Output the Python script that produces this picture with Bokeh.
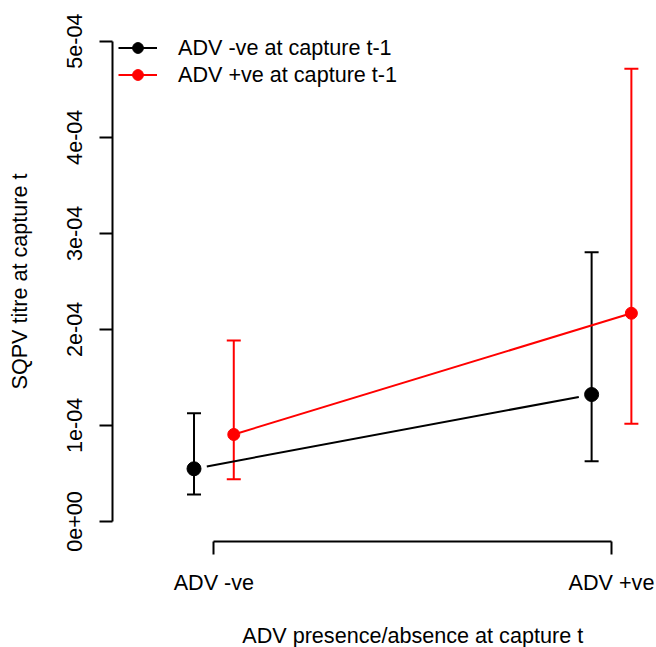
import numpy as np
from bokeh.plotting import figure
from bokeh.models import (ColumnDataSource, Whisker, TeeHead, FixedTicker,
                          CustomJSTickFormatter, Legend, LegendItem, Label, Range1d)
from bokeh.embed import file_html
from bokeh.resources import INLINE

# ---- data ----
categories = ["ADV -ve", "ADV +ve"]
cat_pos = [1, 2]
neg_mean = [5.49e-05, 1.322e-04]
neg_lower = [2.81e-05, 6.28e-05]
neg_upper = [1.127e-04, 2.803e-04]
pos_mean = [9.06e-05, 2.168e-04]
pos_lower = [4.40e-05, 1.017e-04]
pos_upper = [1.884e-04, 4.713e-04]
y_ticks = [0, 1e-4, 2e-4, 3e-4, 4e-4, 5e-4]
series_labels = ["ADV -ve at capture t-1", "ADV +ve at capture t-1"]
x_title = "ADV presence/absence at capture t"
y_title = "SQPV titre at capture t"

# ---- layout / style ----
W, H = 656, 647
BL, BR, BT, BB = 112, 12, 21, 106
X0, X1 = 0.745, 2.083
Y0, Y1 = -0.208e-4, 5.205e-4
DODGE = 0.05
FONT = "Liberation Sans"
FS = "21.6px"
BLACK, RED = "#000000", "#FF0000"

p = figure(width=W, height=H, output_backend="svg", toolbar_location=None,
           x_range=Range1d(X0, X1), y_range=Range1d(Y0, Y1),
           min_border_left=BL, min_border_right=BR, min_border_top=BT,
           min_border_bottom=BB)
p.xgrid.visible = False
p.ygrid.visible = False
p.outline_line_color = None
p.background_fill_color = "white"
p.border_fill_color = "white"

kx = (W - BL - BR) / (X1 - X0)
ky = (H - BT - BB) / (Y1 - Y0)


def gapped_segments(xs, ys, gap_px):
    xs = np.asarray(xs, float)
    ys = np.asarray(ys, float)
    x0s, y0s, x1s, y1s = [], [], [], []
    for i in range(len(xs) - 1):
        dx = (xs[i + 1] - xs[i]) * kx
        dy = (ys[i + 1] - ys[i]) * ky
        L = np.hypot(dx, dy)
        ux, uy = dx / L, dy / L
        x0s.append(xs[i] + ux * gap_px / kx)
        y0s.append(ys[i] + uy * gap_px / ky)
        x1s.append(xs[i + 1] - ux * gap_px / kx)
        y1s.append(ys[i + 1] - uy * gap_px / ky)
    return dict(x0=x0s, y0=y0s, x1=x1s, y1=y1s)


neg_x = [c - DODGE for c in cat_pos]
pos_x = [c + DODGE for c in cat_pos]

neg_src = ColumnDataSource(dict(x=neg_x, y=neg_mean, lower=neg_lower, upper=neg_upper))
pos_src = ColumnDataSource(dict(x=pos_x, y=pos_mean, lower=pos_lower, upper=pos_upper))

# connecting lines
neg_line = p.segment(source=ColumnDataSource(gapped_segments(neg_x, neg_mean, 13)),
                     x0="x0", y0="y0", x1="x1", y1="y1",
                     line_color=BLACK, line_width=2)
pos_line = p.line(x="x", y="y", source=pos_src, line_color=RED, line_width=2)

# error bars
for src, col in ((neg_src, BLACK), (pos_src, RED)):
    w = Whisker(source=src, base="x", lower="lower", upper="upper",
                line_color=col, line_width=2,
                upper_head=TeeHead(size=14, line_color=col, line_width=2),
                lower_head=TeeHead(size=14, line_color=col, line_width=2))
    p.add_layout(w)

neg_pts = p.scatter(x="x", y="y", source=neg_src, size=14, marker="circle",
                    fill_color=BLACK, line_color=BLACK)
pos_pts = p.scatter(x="x", y="y", source=pos_src, size=12, marker="circle",
                    fill_color=RED, line_color=RED)

# axes
xa = p.xaxis[0]
xa.ticker = FixedTicker(ticks=cat_pos)
xa.major_label_overrides = {c: lab for c, lab in zip(cat_pos, categories)}
xa.bounds = (cat_pos[0], cat_pos[-1])

ya = p.yaxis[0]
ya.ticker = FixedTicker(ticks=y_ticks)
ya.formatter = CustomJSTickFormatter(code="""
    if (tick === 0) { return "0e+00"; }
    const e = Math.floor(Math.log10(Math.abs(tick)) + 1e-9);
    const m = Math.round(tick / Math.pow(10, e));
    const ae = Math.abs(e);
    return m + "e" + (e < 0 ? "-" : "+") + (ae < 10 ? "0" + ae : "" + ae);
""")
ya.bounds = (y_ticks[0], y_ticks[-1])
ya.major_label_orientation = "vertical"
ya.axis_label = y_title
ya.axis_label_standoff = 33

for ax in (xa, ya):
    ax.axis_line_width = 2
    ax.axis_line_color = BLACK
    ax.major_tick_line_width = 2
    ax.major_tick_line_color = BLACK
    ax.major_tick_out = 13
    ax.major_tick_in = 0
    ax.minor_tick_line_color = None
    ax.major_label_text_font = FONT
    ax.major_label_text_font_size = FS
    ax.major_label_text_color = BLACK
    ax.axis_label_text_font = FONT
    ax.axis_label_text_font_size = FS
    ax.axis_label_text_font_style = "normal"
    ax.axis_label_text_color = BLACK
xa.major_label_standoff = 15
ya.major_label_standoff = 17

# x title in the panel below the axis, centred between the two categories
p.add_layout(Label(x=(cat_pos[0] + cat_pos[-1]) / 2, y=0, x_units="data", y_units="screen",
                   text=x_title, text_align="center", text_baseline="top",
                   text_font=FONT, text_font_size=FS, text_color=BLACK), "below")

legend = Legend(items=[LegendItem(label=series_labels[0], renderers=[neg_line, neg_pts]),
                       LegendItem(label=series_labels[1], renderers=[pos_line, pos_pts])],
                location=(6, 453), padding=0, margin=0, spacing=0,
                glyph_width=39, glyph_height=27, label_height=27, label_standoff=21,
                border_line_color=None, background_fill_alpha=0,
                label_text_font=FONT, label_text_font_size=FS, label_text_color=BLACK)
p.add_layout(legend)

open("out.html", "w").write(file_html(p, INLINE))
